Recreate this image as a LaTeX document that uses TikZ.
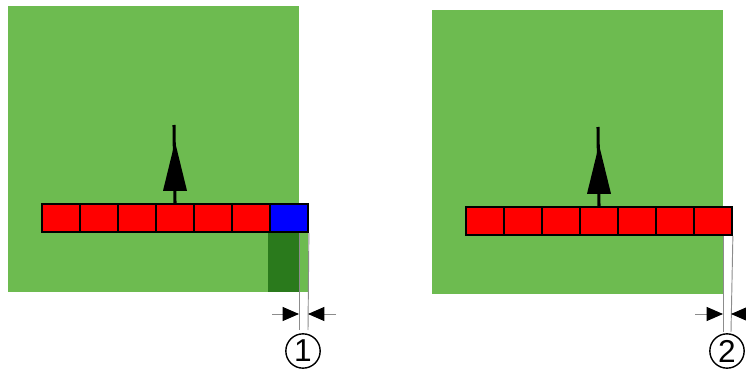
\documentclass[tikz,border=0pt]{standalone}
\usepackage{fontspec}
\setmainfont{Liberation Sans}
\usetikzlibrary{arrows.meta}
\definecolor{fieldgreen}{HTML}{6DBB50}
\definecolor{workedgreen}{HTML}{2A7A1C}
\definecolor{guidegray}{HTML}{8C8C8C}

\begin{document}
\begin{tikzpicture}[x=0.03cm, y=-0.03cm,
    cell/.style={draw=black, fill=red, line width=1.5pt, minimum width=1.14cm, minimum height=0.86cm, inner sep=0pt},
    offcell/.style={cell, fill=blue},
    heading/.style={line width=2.6pt},
    guide/.style={draw=guidegray, line width=0.8pt},
    dimarrow/.style={guidegray, line width=0.8pt, -{Triangle[length=14pt, width=12pt, black]}},
    marker/.style={circle, draw=black, line width=1.2pt, minimum size=1.03cm, inner sep=0pt, font=\fontsize{27}{27}\selectfont}
  ]
  \useasboundingbox (0,0) rectangle (746,370);

  % left: section switched off at the border
  \fill[fieldgreen] (8,6) rectangle (299,292);
  \fill[fieldgreen] (299,233) rectangle (308,292);
  \fill[workedgreen] (268,233) rectangle (299,292);

  \coordinate (aedge) at (299,233);
  \coordinate (ag1) at (299,330);
  \coordinate (ag2) at (308,330);
  \coordinate (al) at (272,314);
  \coordinate (ar) at (336,314);

  \foreach \i in {1,...,6}
    \node[cell] (a\i) at ({23+38*\i},218) {};
  \node[offcell] (a7) at (289,218) {};

  \draw[guide] (aedge) -- (ag1);
  \draw[guide] (a7.south east) -- (ag2);
  \draw[dimarrow] (al) -- (al -| ag1);
  \draw[dimarrow] (ar) -- (ar -| ag2);

  \coordinate (atip) at (174,125);
  \draw[heading] (a4.north) -- (atip);
  \fill ([shift={(-12,-12)}]a4.north) -- ([shift={(0,-61)}]a4.north) -- ([shift={(12,-12)}]a4.north) -- cycle;

  \node[marker] (m1) at (303,351) {1};

  % right: whole boom inside, overlap at the border
  \fill[fieldgreen] (432,10) rectangle (723,294);

  \coordinate (bedge) at (723,236);
  \coordinate (bg1) at (723,332);
  \coordinate (bg2) at (731,332);
  \coordinate (bl) at (695,314);
  \coordinate (br) at (762,314);

  \foreach \i in {1,...,7}
    \node[cell] (b\i) at ({447+38*\i},221) {};

  \draw[guide] (bedge) -- (bg1);
  \draw[guide] (b7.south east) -- (bg2);
  \draw[dimarrow] (bl) -- (bl -| bg1);
  \draw[dimarrow] (br) -- (br -| bg2);

  \coordinate (btip) at (598,127);
  \draw[heading] (b4.north) -- (btip);
  \fill ([shift={(-12,-12)}]b4.north) -- ([shift={(0,-61)}]b4.north) -- ([shift={(12,-12)}]b4.north) -- cycle;

  \node[marker] (m2) at (727,351) {2};
\end{tikzpicture}
\end{document}
